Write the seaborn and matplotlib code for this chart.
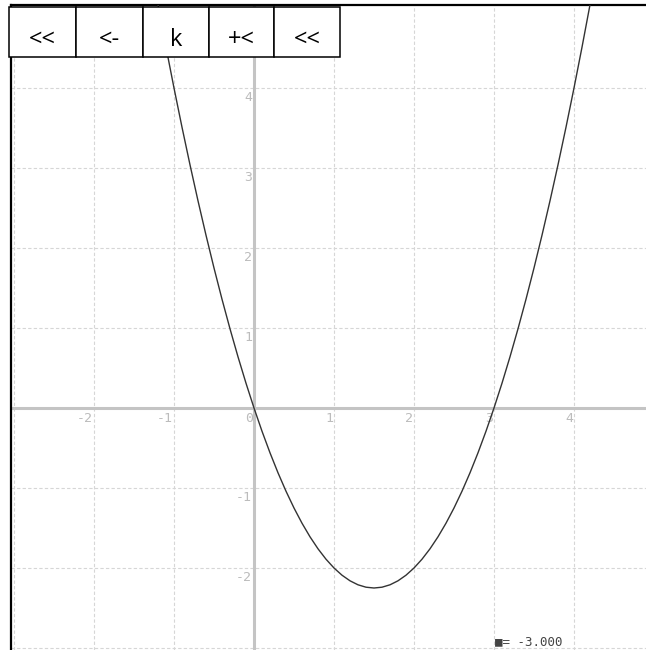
import numpy as np
import pandas as pd
import matplotlib
matplotlib.use("Agg")
import matplotlib.pyplot as plt
from matplotlib.patches import Rectangle
import seaborn as sns

# --- data ---
curve_x = [-1.3, -1.2, -1.1, -1.0, -0.9, -0.8, -0.7, -0.6, -0.5, -0.4, -0.3, -0.2, -0.1,
           0.0, 0.1, 0.2, 0.3, 0.4, 0.5, 0.6, 0.7, 0.8, 0.9, 1.0, 1.1, 1.2, 1.3, 1.4,
           1.5, 1.6, 1.7, 1.8, 1.9, 2.0, 2.1, 2.2, 2.3, 2.4, 2.5, 2.6, 2.7, 2.8, 2.9,
           3.0, 3.1, 3.2, 3.3, 3.4, 3.5, 3.6, 3.7, 3.8, 3.9, 4.0, 4.1, 4.2, 4.3]
curve_y = [5.59, 5.04, 4.51, 4.0, 3.51, 3.04, 2.59, 2.16, 1.75, 1.36, 0.99, 0.64, 0.31,
           0.0, -0.29, -0.56, -0.81, -1.04, -1.25, -1.44, -1.61, -1.76, -1.89, -2.0,
           -2.09, -2.16, -2.21, -2.24, -2.25, -2.24, -2.21, -2.16, -2.09, -2.0, -1.89,
           -1.76, -1.61, -1.44, -1.25, -1.04, -0.81, -0.56, -0.29, 0.0, 0.31, 0.64,
           0.99, 1.36, 1.75, 2.16, 2.59, 3.04, 3.51, 4.0, 4.51, 5.04, 5.59]
x_ticks = [-2, -1, 0, 1, 2, 3, 4]
y_ticks = [-2, -1, 1, 2, 3, 4]
grid_x = [-3, -2, -1, 1, 2, 3, 4]
grid_y = [-3, -2, -1, 1, 2, 3, 4]
button_labels = ["<<", "<-", "k", "+<", "<<"]
m_value = -3.0

W, H = 646, 650
sns.set_theme(style="white")
plt.rcParams['font.family'] = ['DejaVu Sans']

fig = plt.figure(figsize=(W / 100, H / 100), dpi=100)
ax = fig.add_axes([11 / W, 0, (W - 11) / W, (H - 5) / H])
ax.set_xlim(-3.0375, 4.9)
ax.set_ylim(-3.025, 5.0375)

# dashed grid
for gx in grid_x:
    ax.axvline(gx, color="#d6d6d6", lw=0.8, ls=(0, (3, 2)), zorder=1)
for gy in grid_y:
    ax.axhline(gy, color="#d6d6d6", lw=0.8, ls=(0, (3, 2)), zorder=1)

# main axes
ax.axhline(0, color="#c4c4c4", lw=2.2, zorder=2)
ax.axvline(0, color="#c4c4c4", lw=2.2, zorder=2)

# tick labels
for t in x_ticks:
    ax.annotate(str(t), (t, 0), xytext=(-1, -4), textcoords="offset pixels",
                ha="right", va="top", fontsize=9.5, color="#bcbcbc",
                family="DejaVu Sans Mono", zorder=3)
for t in y_ticks:
    ax.annotate(str(t), (0, t), xytext=(-2, -3), textcoords="offset pixels",
                ha="right", va="top", fontsize=9.5, color="#bcbcbc",
                family="DejaVu Sans Mono", zorder=3)

df = pd.DataFrame({"x": curve_x, "y": curve_y})
sns.lineplot(data=df, x="x", y="y", color="#333333", lw=1.0, sort=False,
             ax=ax, zorder=4)

ax.set_xticks([])
ax.set_yticks([])
ax.set_xlabel("")
ax.set_ylabel("")
for side in ["right", "bottom"]:
    ax.spines[side].set_visible(False)
for side in ["left", "top"]:
    ax.spines[side].set_color("black")
    ax.spines[side].set_linewidth(1.6)

# parameter readout
fig.text(495 / W, 2 / H, "■= %.3f" % m_value, ha="left", va="bottom",
         fontsize=9, color="#444444", family="DejaVu Sans Mono", zorder=5)

# button bar
edges = [9, 76, 143, 209, 274, 340]
for i, lab in enumerate(button_labels):
    x0, x1 = edges[i], edges[i + 1]
    fig.patches.append(Rectangle((x0 / W, 1 - 57 / H), (x1 - x0) / W, 50 / H,
                                 transform=fig.transFigure, facecolor="white",
                                 edgecolor="black", lw=1.1, zorder=10))
    fig.text((x0 + x1) / 2 / W, 1 - 46 / H, lab, ha="center", va="baseline",
             fontsize=17, family="Open Sans", color="black", zorder=11)

fig.savefig("out.png", dpi=100)
